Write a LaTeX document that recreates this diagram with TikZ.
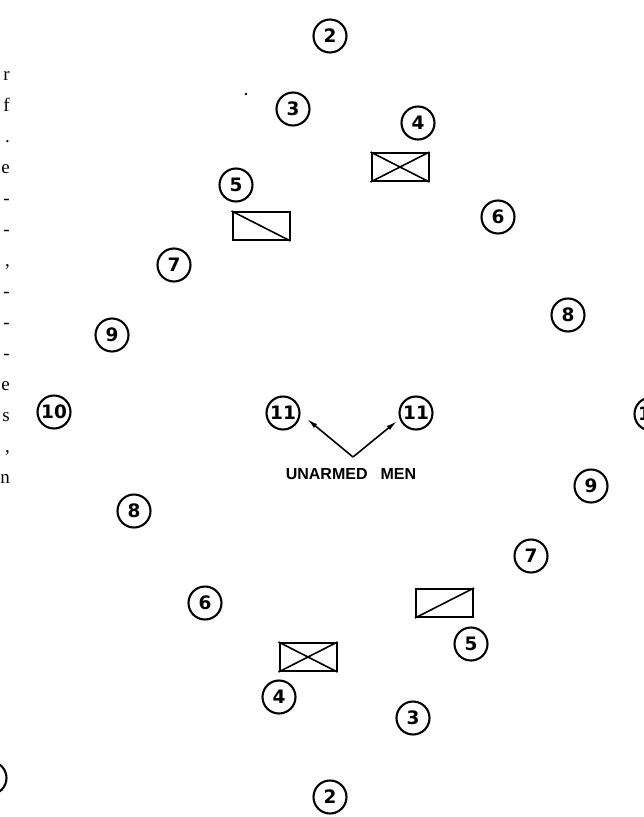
\documentclass[tikz,border=0pt]{standalone}
\usepackage{fontspec}
\setmainfont{Liberation Serif}
\newfontfamily\numfont{DejaVu Sans}
\newfontfamily\lblfont{Liberation Sans}
\usetikzlibrary{arrows.meta}
\begin{document}
\begin{tikzpicture}[x=1pt,y=-1pt,
  posn/.style={circle,draw,line width=2.1pt,minimum size=33pt,inner sep=0pt,
    font=\numfont\bfseries\fontsize{18.5}{18.5}\selectfont},
  veh/.style={draw,line width=2pt,minimum width=57pt,minimum height=28pt,inner sep=0pt},
  diag/.style={line width=1.6pt},
  frag/.style={anchor=base east,inner sep=0pt,font=\fontsize{19}{19}\selectfont},
  lbl/.style={inner sep=0pt,font=\lblfont\bfseries\fontsize{16}{18}\selectfont},
  ptr/.style={line width=1.6pt,-{Latex[length=11pt,width=5pt]}}]
\useasboundingbox (0,0) rectangle (643,817);
% fragments of the neighbouring text column
\foreach \c [count=\i from 0] in {r,f,.,e,-,-,{,},-,-,-,e,s,{,},n}
  \node[frag] (t\i) at (10,{80+31*\i}) {\c};
% positions
\node[posn] (p2t) at (330,36) {2};
\node[posn] (p3t) at (293,109) {3};
\node[posn] (p4t) at (418,123) {4};
\node[posn] (p5t) at (236,185) {5};
\node[posn] (p6t) at (498,217) {6};
\node[posn] (p7t) at (174,265) {7};
\node[posn] (p8t) at (568,315) {8};
\node[posn] (p9t) at (112,335) {9};
\node[posn] (p10l) at (54,412) {10};
\node[posn] (p11l) at (283,413) {11};
\node[posn] (p11r) at (416,413) {11};
\node[posn] (p10r) at (651,414) {10};
\node[posn] (p9b) at (591,486) {9};
\node[posn] (p8b) at (134,511) {8};
\node[posn] (p7b) at (531,556) {7};
\node[posn] (p6b) at (205,603) {6};
\node[posn] (p5b) at (471,644) {5};
\node[posn] (p4b) at (279,697) {4};
\node[posn] (p3b) at (413,718) {3};
\node[posn] (p2b) at (330,797) {2};
\node[posn] (px) at (-10,778) {};
% vehicles
\node[veh] (vx1) at (400,167) {};
\draw[diag] (vx1.north west) -- (vx1.south east) (vx1.south west) -- (vx1.north east);
\node[veh] (vs1) at (261,226) {};
\draw[diag] (vs1.north west) -- (vs1.south east);
\node[veh] (vs2) at (444.5,603) {};
\draw[diag] (vs2.south west) -- (vs2.north east);
\node[veh] (vx2) at (308,657) {};
\draw[diag] (vx2.north west) -- (vx2.south east) (vx2.south west) -- (vx2.north east);
% unarmed men
\coordinate (v) at (353,457);
\coordinate (al) at (307,419);
\coordinate (ar) at (397,421);
\draw[ptr] (v) -- (al);
\draw[ptr] (v) -- (ar);
\node[lbl] (um) at (351,474) {UNARMED\hspace{13pt}MEN};
% speck
\fill (246,94) circle (1.3pt);
\end{tikzpicture}
\end{document}
